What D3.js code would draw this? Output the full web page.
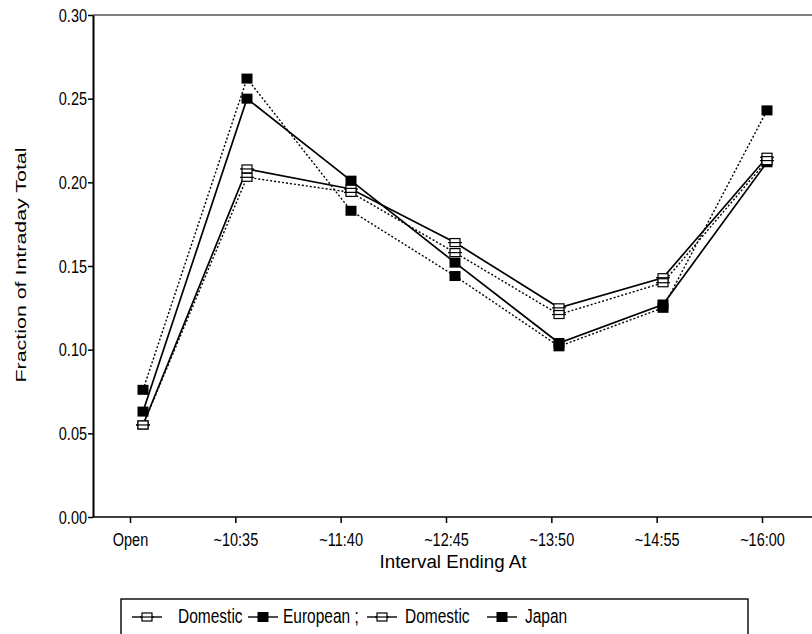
<!DOCTYPE html>
<html><head><meta charset="utf-8">
<script src="https://cdn.jsdelivr.net/npm/d3@7/dist/d3.min.js"></script>
<style>body{margin:0;background:#fff;} text{font-family:"Liberation Sans",Arial,sans-serif;fill:#000;}</style>
</head><body>
<svg id="c" width="812" height="634"></svg>
<script>
const categories = ["Open","~10:35","~11:40","~12:45","~13:50","~14:55","~16:00"];
const domesticA = [0.055,0.208,0.196,0.164,0.125,0.143,0.215];
const european  = [0.063,0.250,0.201,0.152,0.104,0.127,0.212];
const domesticB = [0.055,0.203,0.194,0.158,0.121,0.140,0.213];
const japan     = [0.076,0.262,0.183,0.144,0.102,0.125,0.243];
const yTicks = [0,0.05,0.10,0.15,0.20,0.25,0.30];
const seriesNames = ["Domestic","European ;","Domestic","Japan"];

(function(){
const svg = d3.select("#c");
const pL=93, pR=812, pT=15, pB=517;
const K = 1.28; // vertical stretch of the scanned text
const x = d3.scalePoint().domain(categories).range([143,767]);
const xAxisScale = d3.scalePoint().domain(categories).range([130,762]);
const y = d3.scaleLinear().domain([0,0.30]).range([pB,pT]);

svg.append("line").attr("x1",pL).attr("x2",pR).attr("y1",pT).attr("y2",pT).attr("stroke","#000").attr("stroke-width",1.2);
const ya = svg.append("g").attr("transform",`translate(${pL},0)`)
  .call(d3.axisLeft(y).tickValues(yTicks).tickFormat(d3.format(".2f")).tickSize(5).tickSizeOuter(0));
ya.select(".domain").attr("stroke-width",2);
ya.selectAll(".tick line").attr("stroke-width",1.5);
ya.selectAll("text").style("font-size","14.5px").attr("x",-6).attr("y",0).attr("dy","0.34em").attr("transform",`scale(1,${K})`);
const xa = svg.append("g").attr("transform",`translate(0,${pB})`)
  .call(d3.axisBottom(xAxisScale).tickSize(6).tickSizeOuter(0));
xa.select(".domain").attr("d",`M${pL},0H${pR}`).attr("stroke-width",1.6);
xa.selectAll(".tick line").attr("stroke-width",1.5);
xa.selectAll("text").style("font-size","14.5px").attr("y",29/K).attr("dy",0).attr("transform",`scale(1,${K})`);

svg.append("text").attr("transform","translate(26,265) rotate(-90)").attr("text-anchor","middle")
  .style("font-size","15px").attr("textLength",235).attr("lengthAdjust","spacingAndGlyphs")
  .text("Fraction of Intraday Total");
svg.append("text").attr("transform",`translate(453,568) scale(1,${K})`).attr("text-anchor","middle")
  .style("font-size","15px").attr("textLength",147).attr("lengthAdjust","spacingAndGlyphs")
  .text("Interval Ending At");

const series = [
  {vals:domesticA, dash:null, filled:false},
  {vals:european, dash:null, filled:true},
  {vals:domesticB, dash:"2,2", filled:false},
  {vals:japan, dash:"2,2", filled:true}
];
const line = d3.line().x((d,i)=>x(categories[i])).y(d=>y(d));
const g = svg.append("g");
series.forEach(s=>{
  g.append("path").datum(s.vals).attr("d",line).attr("fill","none").attr("stroke","#000")
   .attr("stroke-width",s.dash?1.4:1.7).attr("stroke-dasharray",s.dash);
});
function marker(sel, cx, cy, filled){
  if(filled){
    sel.append("rect").attr("x",cx-5.5).attr("y",cy-5).attr("width",11).attr("height",10).attr("fill","#000");
  } else {
    sel.append("rect").attr("x",cx-5).attr("y",cy-4).attr("width",10).attr("height",8).attr("fill","#fff").attr("stroke","#000").attr("stroke-width",1.2);
    sel.append("line").attr("x1",cx-7).attr("x2",cx+7).attr("y1",cy).attr("y2",cy).attr("stroke","#000").attr("stroke-width",1.2);
  }
}
series.forEach(s=>{
  s.vals.forEach((v,i)=>marker(g, x(categories[i]), y(v), s.filled));
});

const lg = svg.append("g");
lg.append("rect").attr("x",121).attr("y",599).attr("width",627).attr("height",45).attr("fill","none").attr("stroke","#000").attr("stroke-width",1.4);
const legSym = [147,263,382,502];
const legTx = [178,283,405,525];
series.forEach((s,i)=>{
  const cx=legSym[i];
  lg.append("line").attr("x1",cx-15).attr("x2",cx+15).attr("y1",617).attr("y2",617).attr("stroke","#000").attr("stroke-width",1.4);
  marker(lg, cx, 617, s.filled);
  lg.append("text").attr("transform",`translate(${legTx[i]},623) scale(1,${K})`).style("font-size","15.5px").text(seriesNames[i]);
});
})();
</script>
</body></html>
